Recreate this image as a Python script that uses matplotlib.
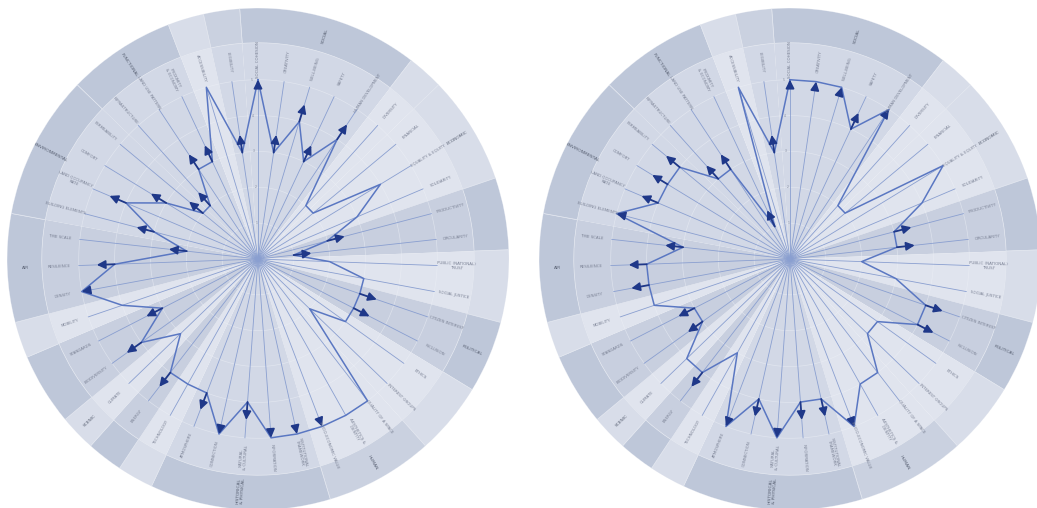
import numpy as np
import matplotlib
matplotlib.use("Agg")
import matplotlib.pyplot as plt

# ---- indicator names, clockwise from the top ----
spoke_labels = [
    "SOCIAL COHESION", "CREATIVITY", "WELL-BEING", "SAFETY", "HUMAN DEVELOPMENT",
    "DIVERSITY", "FINANCIAL", "EQUALITY & EQUITY", "SOLIDARITY",
    "PRODUCTIVITY", "CIRCULARITY",
    "PUBLIC (NATIONAL)\nTRUST", "SOCIAL JUSTICE",
    "CITIZEN INTEREST", "INCLUSION",
    "ETHICS", "INTEREST GROUPS",
    "QUALITY OF A SPACE", "AESTHETICS &\nIDENTITY", "SOCIO-ECONOMIC VALUE",
    "INSTITUTIONAL\nFRAMEWORK", "INFORMATION", "NATURAL\n& CULTURAL", "CONNECTION", "ATMOSPHERE",
    "TECHNOLOGY", "ENERGY", "CLIMATE", "BIODIVERSITY", "STANDARDS", "MOBILITY",
    "DENSITY", "RESILIENCE", "TIME SCALE",
    "BUILDING ELEMENTS", "LAND OCCUPANCY\nRATE", "COMFORT", "PERMEABILITY",
    "INFRASTRUCTURE", "LAND USE PATTERN", "PROXIMITY\n& ECONOMY",
    "ACCESSIBILITY", "LEGIBILITY",
]

# ---- scores (0-5): current value and desired value (None = no change arrow) ----
left_current = [5, 3, 4, 3, 4, 2, 2, 4, 3, 2, 1, 2, 3, 3, 3, 3, 2, 5, 5, 5, 5, 5,
                4, 5, 4, 4, 4, 3, 4, 3, 4, 5, 4, 2, 3, 4, 3, 2, 2, 3, 3, 5, 3]
left_target = [5, 3.5, 4.5, 3.5, 4.5, None, None, None, None, 2.5, 1.5, None, None,
               3.5, 3.5, None, None, None, None, 5, 5, 5, 4.5, 5, 4.5, None, 4.5,
               None, 4.5, 3.5, None, 5, 4.5, 2.5, 3.5, 4.5, 3.5, 2.5, 2.5, 3.5,
               3.5, None, 3.5]

right_current = [5, 5, 5, 4, 5, 2, 2, 5, 4, 3, 3, 2, 3, 4, 4, 3, 3, 4, 4, 5, 4, 4,
                 5, 4, 5, 3, 4, 4, 3, 3, 4, 4, 4, 3, 5, 4, 4, 4, 3, 3, 1, 5, 3]
right_target = [5, 5, 5, 4.5, 5, None, None, None, None, 3.5, 3.5, None, None,
                4.5, 4.5, None, None, None, None, 5, 4.5, 4.5, 5, 4.5, 5, None,
                4.5, None, 3.5, 3.5, None, 4.5, 4.5, 3.5, 5, 4.5, 4.5, 4.5, 3.5,
                3.5, 1.5, None, 3.5]

# ---- outer ring groups: first spoke, last spoke, name, wedge tone, ring tone ----
groups = [
    (0, 4, "SOCIAL", 1, 2),
    (5, 5, "", 0, 0),
    (6, 8, "ECONOMIC", 0, 0),
    (9, 10, "", 2, 2),
    (11, 12, "", 0, 0),
    (13, 14, "POLITICAL", 2, 2),
    (15, 16, "", 0, 0),
    (17, 19, "HUMAN", 0, 1),
    (20, 24, "HISTORICAL\n& PHYSICAL", 1, 2),
    (25, 25, "", 0, 0),
    (26, 26, "", 2, 2),
    (27, 27, "SCENIC", 0, 0),
    (28, 29, "", 2, 2),
    (30, 30, "", 0, 0),
    (31, 33, "AIR", 2, 2),
    (34, 37, "ENVIRONMENTAL", 1, 2),
    (38, 40, "FUNCTIONAL", 1, 2),
    (41, 41, "", 0, 0),
    (42, 42, "", 1, 1),
]

WEDGE = {0: "#e0e4ee", 1: "#d2d8e6", 2: "#c8cfdf"}
RING = {0: "#d8dde9", 1: "#cad1e0", 2: "#bec7d9"}
LINE = "#5a77c2"
ARROW = "#1f3889"
SPOKE = "#8a9fd0"

N = len(spoke_labels)
step = 2 * np.pi / N
theta = np.arange(N) * step
R_DATA, R_RING, R_OUT = 5.0, 6.03, 7.0


def radial_rotation(th):
    ang = 90.0 - np.degrees(th)
    ang = (ang + 180) % 360 - 180
    if ang > 90 or ang < -90:
        ang -= 180
    return ang


def draw_compass(ax, current, target):
    ax.set_theta_zero_location("N")
    ax.set_theta_direction(-1)
    ax.set_ylim(0, R_OUT)
    ax.axis("off")

    # sector shading and outer group ring
    for s, e, name, wt, rt in groups:
        centre = (s + e) / 2 * step
        width = (e - s + 1) * step
        ax.bar(centre, R_RING, width=width, bottom=0, color=WEDGE[wt],
               edgecolor="none", zorder=0)
        ax.bar(centre, R_OUT - R_RING, width=width, bottom=R_RING,
               color=RING[rt], edgecolor="#e2e6ef", linewidth=0.5, zorder=0)
        if name:
            ax.text(centre, 6.5, name, rotation=radial_rotation(centre),
                    rotation_mode="anchor", ha="center", va="center",
                    fontsize=3.2, color="#596173", linespacing=1.1, zorder=5)

    # value rings
    circ = np.linspace(0, 2 * np.pi, 400)
    for k in range(1, 6):
        ax.plot(circ, np.full_like(circ, k), color="#eef1f7", lw=0.5,
                alpha=0.55, zorder=1)
        ax.text(-0.035, k, str(k), fontsize=2.2, color="#7d8598",
                ha="center", va="center", zorder=5)

    # spokes and indicator names
    for th, lab in zip(theta, spoke_labels):
        ax.plot([th, th], [0, R_DATA], color=SPOKE, lw=0.6, zorder=2)
        ax.text(th, 5.55, lab, rotation=radial_rotation(th),
                rotation_mode="anchor", ha="center", va="center",
                fontsize=2.9, color="#7a8194", linespacing=1.1, zorder=5)

    # current profile
    ax.plot(np.append(theta, theta[0]), np.append(current, current[0]),
            color=LINE, lw=1.1, zorder=3)

    # desired changes
    for th, c, t in zip(theta, current, target):
        if t is None:
            continue
        start = c if t != c else t - 0.2
        ax.annotate("", xy=(th, t), xytext=(th, start),
                    arrowprops=dict(arrowstyle="-|>,head_length=0.5,head_width=0.25",
                                    mutation_scale=10, color=ARROW, lw=1.3,
                                    shrinkA=0, shrinkB=0),
                    zorder=4)


fig = plt.figure(figsize=(10.37, 5.08), dpi=100)
W, H = 1037.0, 508.0
ax_left = fig.add_axes([7 / W, -2 / H, 502 / W, 502 / H], projection="polar")
ax_right = fig.add_axes([539 / W, -2 / H, 502 / W, 502 / H], projection="polar")
draw_compass(ax_left, left_current, left_target)
draw_compass(ax_right, right_current, right_target)

fig.savefig("out.png", dpi=100, facecolor="white")
